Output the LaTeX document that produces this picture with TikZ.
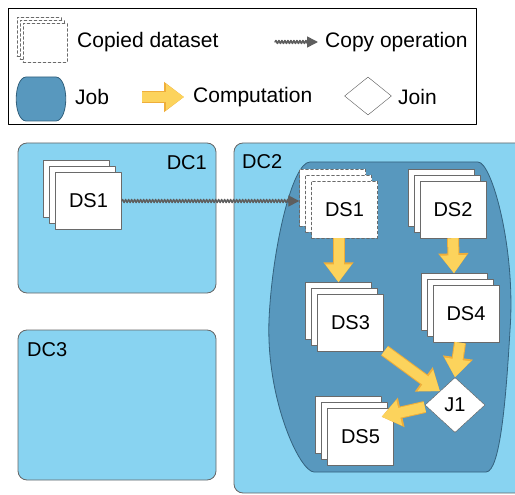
\documentclass[tikz,border=0pt]{standalone}
\usepackage{fontspec}
\setmainfont{Liberation Sans}
\usetikzlibrary{arrows.meta, calc, decorations.pathmorphing, shapes.geometric, shadows}
\definecolor{dcblue}{HTML}{88D3F1}
\definecolor{jobblue}{HTML}{5898BE}
\definecolor{jobedge}{HTML}{34627E}
\definecolor{compyellow}{HTML}{FCD35C}
\definecolor{comporange}{HTML}{EFAE3A}
\definecolor{copygray}{HTML}{5E5E5E}
\definecolor{dsedge}{HTML}{6A6A6A}
\pgfdeclarelayer{front}
\pgfsetlayers{main,front}
\tikzset{
  every picture/.style={line cap=round, line join=round, font=\fontsize{20}{24}\selectfont},
  dc/.style={draw=gray!80!black, fill=dcblue, rounded corners=9pt, thick},
  dclabel/.style={inner sep=0pt},
  job/.style={draw=jobedge, fill=jobblue, thick},
  % dataset stacks: front square plus two copies up and left
  dsbase/.style={draw=dsedge, fill=white, minimum width=66pt, minimum height=57pt, inner sep=0pt},
  dset/.style={dsbase, double copy shadow={shadow xshift=-6pt, shadow yshift=6pt, draw=dsedge}},
  copied/.style={dsbase, densely dashed, double copy shadow={shadow xshift=-6pt, shadow yshift=6pt, draw=dsedge, densely dashed}},
  copiedicon/.style={dsbase, densely dashed, minimum width=44pt, minimum height=39pt,
    double copy shadow={shadow xshift=-3pt, shadow yshift=3pt, draw=dsedge, densely dashed}},
  joinnode/.style={diamond, draw=gray!70!black, fill=white, minimum width=60pt, minimum height=55pt, inner sep=0pt},
  comp/.style={line cap=butt, draw=compyellow, line width=10pt, -{Triangle[length=18pt,width=25pt]},
    preaction={draw=comporange, line cap=butt, line width=12pt, -{Triangle[length=20pt,width=29pt]}}},
  copyop/.style={draw=copygray, line width=1.5pt, decorate,
    decoration={snake, amplitude=1.5pt, segment length=3pt, post length=9pt},
    -{Triangle[length=11pt,width=11pt]}},
  legtext/.style={anchor=west, inner sep=0pt, font=\fontsize{21}{25}\selectfont},
}
\begin{document}
\begin{tikzpicture}[x=1pt, y=-1pt]
  \useasboundingbox (0,0) rectangle (515,495);
  \clip (0,0) rectangle (515,495);
  % ---- legend
  \draw[thick] (8,8) rectangle (476,124);
  \node[copiedicon] (legcopy) at (45,43) {};
  \node[legtext] (tcopied) at (77,42) {Copied dataset};
  \coordinate (copyfrom) at (275,42);
  \coordinate (copyto) at (318,42);
  \draw[copyop] (copyfrom) -- (copyto);
  \node[legtext] (tcopyop) at (325,42) {Copy operation};
  \filldraw[job] (26,77) -- (56,77) .. controls (69,78) and (69,120) .. (56,121)
    -- (26,121) .. controls (13,120) and (13,78) .. cycle;
  \node[legtext] (tjob) at (75,97) {Job};
  \coordinate (compfrom) at (142,97);
  \coordinate (compto) at (184,97);
  \draw[comp] (compfrom) -- (compto);
  \node[legtext] (tcomp) at (193,97) {Computation};
  \node[joinnode, minimum width=47pt, minimum height=38pt] (legjoin) at (368,96) {};
  \node[legtext] (tjoin) at (398,97) {Join};
  % ---- data centres
  \draw[dc] (18,143) rectangle (216,293);
  \draw[dc] (234,143) rectangle (540,493);
  \draw[dc] (18,330) rectangle (216,480);
  \node[dclabel, anchor=north east] (dc1) at (207,155) {DC1};
  \node[dclabel, anchor=north west] (dc2) at (242,154) {DC2};
  \node[dclabel, anchor=north west] (dc3) at (27,342) {DC3};
  % ---- job in DC2
  \filldraw[job] (310,162) -- (478,162) .. controls (492,162) and (516,250) .. (510,330)
    .. controls (506,400) and (500,472) .. (486,472) -- (314,472)
    .. controls (300,472) and (266,400) .. (269,320) .. controls (272,250) and (292,162) .. cycle;
  % ---- datasets
  \node[dset] (ds1a) at (88.5,201) {DS1};
  \node[copied] (ds1b) at (344.5,209.5) {DS1};
  \node[dset] (ds2) at (453,209.5) {DS2};
  \node[dset] (ds3) at (350.5,323) {DS3};
  \node[dset] (ds4) at (466,314) {DS4};
  \node[dset] (ds5) at (360.5,436.5) {DS5};
  \begin{pgfonlayer}{front}
    \node[joinnode] (j1) at (455,405) {J1};
  \end{pgfonlayer}
  % ---- copy and computations
  \draw[copyop] (ds1a.east) -- ([xshift=-12pt]ds1a.east -| ds1b.west);
  \draw[comp] ([xshift=-6pt]ds1b.south) -- ([xshift=-12pt,yshift=12pt]ds3.north);
  \draw[comp] (ds2.south) -- ([xshift=-12pt,yshift=12pt]ds4.north);
  \draw[comp] ([xshift=1pt,yshift=1pt]ds3.south east) -- (j1.north west);
  \draw[comp] ([xshift=-6pt]ds4.south) -- (j1.north);
  \draw[comp] ([yshift=-2pt]j1.west) -- ($(ds5.north east)+(-12,9)$);
\end{tikzpicture}
\end{document}
